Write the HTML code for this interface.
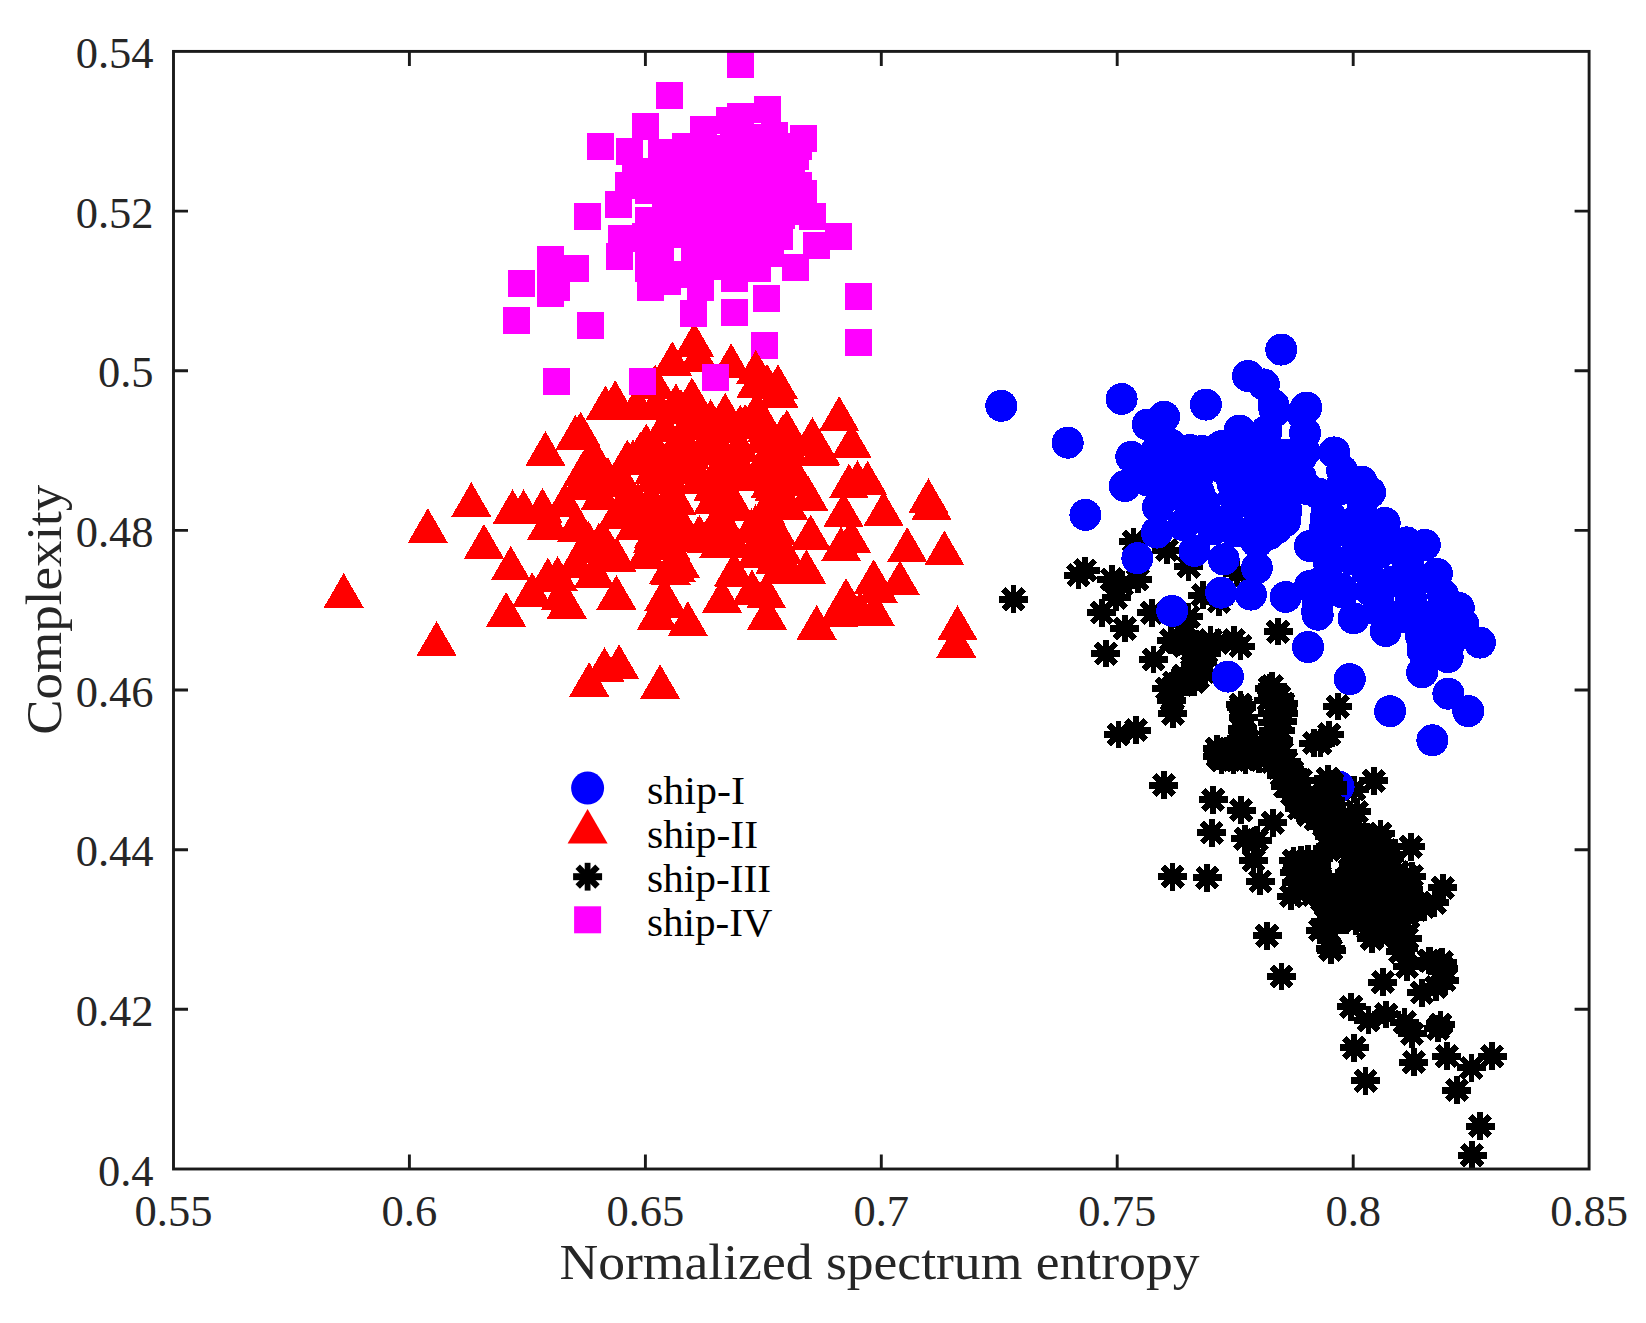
<!DOCTYPE html>
<html lang="en"><head><meta charset="utf-8"><title>Complexity vs normalized spectrum entropy</title>
<style>
html,body{margin:0;padding:0;background:#fff;}
body{width:1646px;height:1323px;overflow:hidden;}
svg{display:block;}
text{font-family:"Liberation Serif",serif;fill:#262626;}
.tk{font-size:44.5px;}
.lb{font-size:50.5px;}
.lg{font-size:41px;fill:#000;}
</style></head><body>
<svg width="1646" height="1323" viewBox="0 0 1646 1323">
<rect width="1646" height="1323" fill="#fff"/>
<defs>
<g id="ast" stroke="#000" fill="none"><path d="M0-13.9V13.9" stroke-width="5.8"/><path d="M-14.5 0H14.5" stroke-width="7"/><path d="M-9.9-9.9L9.9 9.9M-9.9 9.9L9.9-9.9" stroke-width="6.3"/></g>
<polygon id="tri" points="0,-23.1 20,11.55 -20,11.55" fill="#f00"/>
<rect id="sq" x="-13.5" y="-13.5" width="27" height="27" fill="#f0f"/>
<circle id="ci" r="16" fill="#00f"/>
</defs>

<g id="ship3" shape-rendering="crispEdges">
<use href="#ast" x="1356.5" y="835"/>
<use href="#ast" x="1332.5" y="813.5"/>
<use href="#ast" x="1330" y="846.5"/>
<use href="#ast" x="1307.5" y="808"/>
<use href="#ast" x="1356" y="852"/>
<use href="#ast" x="1308" y="859"/>
<use href="#ast" x="1368.5" y="860"/>
<use href="#ast" x="1332" y="829"/>
<use href="#ast" x="1385.5" y="865.5"/>
<use href="#ast" x="1298.5" y="870"/>
<use href="#ast" x="1312" y="876"/>
<use href="#ast" x="1355.5" y="874.5"/>
<use href="#ast" x="1329.5" y="883.5"/>
<use href="#ast" x="1388.5" y="882.5"/>
<use href="#ast" x="1368.5" y="887"/>
<use href="#ast" x="1385.5" y="850"/>
<use href="#ast" x="1344.5" y="884.5"/>
<use href="#ast" x="1340" y="899.5"/>
<use href="#ast" x="1306.5" y="890.5"/>
<use href="#ast" x="1347" y="822.5"/>
<use href="#ast" x="1368.5" y="902"/>
<use href="#ast" x="1318" y="818"/>
<use href="#ast" x="1342.5" y="839.5"/>
<use href="#ast" x="1369" y="842"/>
<use href="#ast" x="1373.5" y="873.5"/>
<use href="#ast" x="1355.5" y="894"/>
<use href="#ast" x="1390.5" y="897"/>
<use href="#ast" x="1320" y="895.5"/>
<use href="#ast" x="1259" y="759.5"/>
<use href="#ast" x="1402" y="886.5"/>
<use href="#ast" x="1398" y="872"/>
<use href="#ast" x="1301" y="780"/>
<use href="#ast" x="1196" y="660"/>
<use href="#ast" x="1255.5" y="743.5"/>
<use href="#ast" x="1184.5" y="646"/>
<use href="#ast" x="1296" y="882.5"/>
<use href="#ast" x="1356" y="921.5"/>
<use href="#ast" x="1383" y="923.5"/>
<use href="#ast" x="1293.5" y="860.5"/>
<use href="#ast" x="1379.5" y="893.5"/>
<use href="#ast" x="1282" y="752.5"/>
<use href="#ast" x="1353" y="863"/>
<use href="#ast" x="1239.5" y="740.5"/>
<use href="#ast" x="1344" y="850"/>
<use href="#ast" x="1292.5" y="771.5"/>
<use href="#ast" x="1402.5" y="928.5"/>
<use href="#ast" x="1316" y="863"/>
<use href="#ast" x="1320" y="808.5"/>
<use href="#ast" x="1279.5" y="696.5"/>
<use href="#ast" x="1206.5" y="652"/>
<use href="#ast" x="1299" y="808.5"/>
<use href="#ast" x="1278" y="740"/>
<use href="#ast" x="1272.5" y="762"/>
<use href="#ast" x="1335" y="922.5"/>
<use href="#ast" x="1281.5" y="775.5"/>
<use href="#ast" x="1377" y="854"/>
<use href="#ast" x="1331.5" y="896"/>
<use href="#ast" x="1396" y="907.5"/>
<use href="#ast" x="1318.5" y="883"/>
<use href="#ast" x="1272.5" y="713"/>
<use href="#ast" x="1245.5" y="760"/>
<use href="#ast" x="1368" y="928.5"/>
<use href="#ast" x="1324" y="826"/>
<use href="#ast" x="1347.5" y="904"/>
<use href="#ast" x="1343" y="816"/>
<use href="#ast" x="1358.5" y="881"/>
<use href="#ast" x="1192" y="670"/>
<use href="#ast" x="1221.5" y="760.5"/>
<use href="#ast" x="1282.5" y="721"/>
<use href="#ast" x="1292" y="794"/>
<use href="#ast" x="1370.5" y="911.5"/>
<use href="#ast" x="1380.5" y="879"/>
<use href="#ast" x="1230" y="748.5"/>
<use href="#ast" x="1181.5" y="685"/>
<use href="#ast" x="1354.5" y="826"/>
<use href="#ast" x="1408.5" y="889.5"/>
<use href="#ast" x="1329" y="836"/>
<use href="#ast" x="1383.5" y="842"/>
<use href="#ast" x="1363.5" y="870.5"/>
<use href="#ast" x="1325.5" y="921"/>
<use href="#ast" x="1389.5" y="854"/>
<use href="#ast" x="1381" y="932.5"/>
<use href="#ast" x="1308.5" y="815"/>
<use href="#ast" x="1356" y="843.5"/>
<use href="#ast" x="1320" y="876.5"/>
<use href="#ast" x="1308" y="802"/>
<use href="#ast" x="1392.5" y="920"/>
<use href="#ast" x="1343.5" y="829"/>
<use href="#ast" x="1367" y="836.5"/>
<use href="#ast" x="1348.5" y="876.5"/>
<use href="#ast" x="1413" y="901"/>
<use href="#ast" x="1260" y="750"/>
<use href="#ast" x="1302.5" y="789"/>
<use href="#ast" x="1286.5" y="761.5"/>
<use href="#ast" x="1246" y="739"/>
<use href="#ast" x="1192" y="642.5"/>
<use href="#ast" x="1316" y="858.5"/>
<use href="#ast" x="1337.5" y="883"/>
<use href="#ast" x="1364" y="854"/>
<use href="#ast" x="1285" y="786.5"/>
<use href="#ast" x="1280" y="730"/>
<use href="#ast" x="1294.5" y="872.5"/>
<use href="#ast" x="1335" y="908"/>
<use href="#ast" x="1322" y="900"/>
<use href="#ast" x="1174" y="682.5"/>
<use href="#ast" x="1381.5" y="903"/>
<use href="#ast" x="1233.5" y="760"/>
<use href="#ast" x="1306" y="873"/>
<use href="#ast" x="1396.5" y="936"/>
<use href="#ast" x="1396" y="894"/>
<use href="#ast" x="1202" y="662"/>
<use href="#ast" x="1313.5" y="895"/>
<use href="#ast" x="1392.5" y="867.5"/>
<use href="#ast" x="1360" y="897"/>
<use href="#ast" x="1192" y="651"/>
<use href="#ast" x="1344" y="891"/>
<use href="#ast" x="1269.5" y="688"/>
<use href="#ast" x="1298" y="892"/>
<use href="#ast" x="1346.5" y="920"/>
<use href="#ast" x="1272.5" y="722"/>
<use href="#ast" x="1330" y="848.5"/>
<use href="#ast" x="1380.5" y="864.5"/>
<use href="#ast" x="1332.5" y="820"/>
<use href="#ast" x="1177" y="642.5"/>
<use href="#ast" x="1283.5" y="703.5"/>
<use href="#ast" x="1301" y="859.5"/>
<use href="#ast" x="1415.5" y="910"/>
<use href="#ast" x="1283" y="713"/>
<use href="#ast" x="1405.5" y="875"/>
<use href="#ast" x="1315.5" y="819.5"/>
<use href="#ast" x="1198" y="677.5"/>
<use href="#ast" x="1217.5" y="756"/>
<use href="#ast" x="1174" y="692.5"/>
<use href="#ast" x="1307.5" y="882"/>
<use href="#ast" x="1326" y="810.5"/>
<use href="#ast" x="1241" y="707.5"/>
<use href="#ast" x="1392.5" y="876.5"/>
<use href="#ast" x="1278.5" y="768"/>
<use href="#ast" x="1349.5" y="854.5"/>
<use href="#ast" x="1298" y="802"/>
<use href="#ast" x="1085.1" y="570.4"/>
<use href="#ast" x="1078.4" y="575.1"/>
<use href="#ast" x="1111.8" y="579.3"/>
<use href="#ast" x="1137.7" y="579.3"/>
<use href="#ast" x="1121.8" y="585.1"/>
<use href="#ast" x="1101.8" y="612.7"/>
<use href="#ast" x="1116" y="597.6"/>
<use href="#ast" x="1124.8" y="628.5"/>
<use href="#ast" x="1105.9" y="653.6"/>
<use href="#ast" x="1151.9" y="612.7"/>
<use href="#ast" x="1153.6" y="659.5"/>
<use href="#ast" x="1166.9" y="550"/>
<use href="#ast" x="1188.6" y="566.7"/>
<use href="#ast" x="1202.8" y="595.1"/>
<use href="#ast" x="1218.7" y="601.8"/>
<use href="#ast" x="1237.1" y="573.4"/>
<use href="#ast" x="1133.5" y="541.7"/>
<use href="#ast" x="1278" y="631.6"/>
<use href="#ast" x="1188.6" y="616.9"/>
<use href="#ast" x="1171.1" y="640.2"/>
<use href="#ast" x="1184.5" y="633.6"/>
<use href="#ast" x="1198.7" y="646.9"/>
<use href="#ast" x="1210.4" y="640.2"/>
<use href="#ast" x="1217.9" y="642.7"/>
<use href="#ast" x="1233.8" y="640.2"/>
<use href="#ast" x="1240.4" y="646.1"/>
<use href="#ast" x="1183.6" y="675.3"/>
<use href="#ast" x="1173.6" y="687"/>
<use href="#ast" x="1193.7" y="682"/>
<use href="#ast" x="1203.7" y="672"/>
<use href="#ast" x="1166.9" y="688.7"/>
<use href="#ast" x="1171.9" y="700.4"/>
<use href="#ast" x="1172.8" y="713.8"/>
<use href="#ast" x="1118.5" y="734.6"/>
<use href="#ast" x="1136" y="730.1"/>
<use href="#ast" x="1272.2" y="686.2"/>
<use href="#ast" x="1240.4" y="704.6"/>
<use href="#ast" x="1243.8" y="717.1"/>
<use href="#ast" x="1242.1" y="728.8"/>
<use href="#ast" x="1268.8" y="700.4"/>
<use href="#ast" x="1282.2" y="707.1"/>
<use href="#ast" x="1277.2" y="720.4"/>
<use href="#ast" x="1273.9" y="730.5"/>
<use href="#ast" x="1268.8" y="740.5"/>
<use href="#ast" x="1217" y="748.8"/>
<use href="#ast" x="1227.1" y="755.5"/>
<use href="#ast" x="1243.8" y="750.5"/>
<use href="#ast" x="1313.9" y="743"/>
<use href="#ast" x="1163.9" y="785.1"/>
<use href="#ast" x="1213.2" y="799.8"/>
<use href="#ast" x="1241.1" y="810.2"/>
<use href="#ast" x="1211.8" y="832.7"/>
<use href="#ast" x="1172.6" y="876.7"/>
<use href="#ast" x="1207.3" y="877.8"/>
<use href="#ast" x="1267" y="935.8"/>
<use href="#ast" x="1272.8" y="822.7"/>
<use href="#ast" x="1245.3" y="838.6"/>
<use href="#ast" x="1257" y="840.2"/>
<use href="#ast" x="1253.6" y="860.3"/>
<use href="#ast" x="1260.3" y="881.2"/>
<use href="#ast" x="1291.2" y="896.2"/>
<use href="#ast" x="1373.9" y="780.9"/>
<use href="#ast" x="1218.5" y="752.5"/>
<use href="#ast" x="1233.6" y="756.7"/>
<use href="#ast" x="1246.9" y="753.4"/>
<use href="#ast" x="1320.4" y="743.3"/>
<use href="#ast" x="1272" y="753.4"/>
<use href="#ast" x="1283.7" y="766.7"/>
<use href="#ast" x="1288.7" y="785.1"/>
<use href="#ast" x="1300.4" y="795.1"/>
<use href="#ast" x="1380.6" y="833.6"/>
<use href="#ast" x="1410.7" y="846.9"/>
<use href="#ast" x="1328.8" y="930.5"/>
<use href="#ast" x="1330.5" y="948.8"/>
<use href="#ast" x="1480.1" y="1126.1"/>
<use href="#ast" x="1472" y="1155.3"/>
<use href="#ast" x="1442.8" y="887.9"/>
<use href="#ast" x="1434.5" y="902.9"/>
<use href="#ast" x="1411.9" y="876.2"/>
<use href="#ast" x="1408.6" y="917.1"/>
<use href="#ast" x="1406.9" y="900.4"/>
<use href="#ast" x="1356.8" y="811.8"/>
<use href="#ast" x="1371.8" y="938.8"/>
<use href="#ast" x="1403.6" y="948.8"/>
<use href="#ast" x="1428.6" y="960.5"/>
<use href="#ast" x="1442" y="962.2"/>
<use href="#ast" x="1281.4" y="976.5"/>
<use href="#ast" x="1331.1" y="950.1"/>
<use href="#ast" x="1326.9" y="930.1"/>
<use href="#ast" x="1372" y="938.4"/>
<use href="#ast" x="1382.8" y="982.2"/>
<use href="#ast" x="1407.1" y="966.8"/>
<use href="#ast" x="1400.4" y="951.8"/>
<use href="#ast" x="1430.5" y="961"/>
<use href="#ast" x="1443" y="968.5"/>
<use href="#ast" x="1444.7" y="980.2"/>
<use href="#ast" x="1436.3" y="986.9"/>
<use href="#ast" x="1421.8" y="992.7"/>
<use href="#ast" x="1351.1" y="1006.9"/>
<use href="#ast" x="1368.6" y="1020.3"/>
<use href="#ast" x="1386.2" y="1014.4"/>
<use href="#ast" x="1404.6" y="1022"/>
<use href="#ast" x="1412.1" y="1033.7"/>
<use href="#ast" x="1440.5" y="1024.5"/>
<use href="#ast" x="1438" y="1028.6"/>
<use href="#ast" x="1354.1" y="1047.9"/>
<use href="#ast" x="1413.8" y="1062.1"/>
<use href="#ast" x="1365.6" y="1080.9"/>
<use href="#ast" x="1446.8" y="1056.2"/>
<use href="#ast" x="1471.4" y="1067.9"/>
<use href="#ast" x="1492.3" y="1056.2"/>
<use href="#ast" x="1456.9" y="1090.1"/>
<use href="#ast" x="1328.5" y="910"/>
<use href="#ast" x="1343.6" y="916.7"/>
<use href="#ast" x="1357" y="910"/>
<use href="#ast" x="1370.3" y="920"/>
<use href="#ast" x="1383.7" y="910"/>
<use href="#ast" x="1398.7" y="916.7"/>
<use href="#ast" x="1410.4" y="910"/>
<use href="#ast" x="1423.8" y="906.7"/>
<use href="#ast" x="1320.2" y="930.1"/>
<use href="#ast" x="1390.4" y="933.4"/>
<use href="#ast" x="1407.1" y="938.4"/>
<use href="#ast" x="1354.2" y="789.4"/>
<use href="#ast" x="1013.4" y="599.2"/>
<use href="#ast" x="1329.3" y="734.5"/>
<use href="#ast" x="1337.8" y="706.6"/>
</g>
<g id="ship1-under" shape-rendering="crispEdges">
<use href="#ci" x="1338.6" y="786.6"/>
</g>
<g id="ship3-over" shape-rendering="crispEdges">
<use href="#ast" x="1328.1" y="778.7"/>
<use href="#ast" x="1332.3" y="784.1"/>
<use href="#ast" x="1332.3" y="791.4"/>
<use href="#ast" x="1325" y="793"/>
<use href="#ast" x="1330" y="800"/>
</g>
<g id="ship1" shape-rendering="crispEdges">
<use href="#ci" x="1258.5" y="510"/>
<use href="#ci" x="1202" y="451"/>
<use href="#ci" x="1196.5" y="491.5"/>
<use href="#ci" x="1227" y="521"/>
<use href="#ci" x="1367" y="570"/>
<use href="#ci" x="1326.5" y="513.5"/>
<use href="#ci" x="1401.5" y="578.5"/>
<use href="#ci" x="1353" y="535"/>
<use href="#ci" x="1341.5" y="589"/>
<use href="#ci" x="1378.5" y="599.5"/>
<use href="#ci" x="1187" y="521"/>
<use href="#ci" x="1285" y="521"/>
<use href="#ci" x="1254" y="538.5"/>
<use href="#ci" x="1408" y="609.5"/>
<use href="#ci" x="1223" y="468"/>
<use href="#ci" x="1309" y="489.5"/>
<use href="#ci" x="1170.5" y="444.5"/>
<use href="#ci" x="1152" y="478.5"/>
<use href="#ci" x="1234" y="496.5"/>
<use href="#ci" x="1380" y="552.5"/>
<use href="#ci" x="1339" y="489.5"/>
<use href="#ci" x="1359" y="517.5"/>
<use href="#ci" x="1300.5" y="458"/>
<use href="#ci" x="1213" y="529.5"/>
<use href="#ci" x="1231" y="445.5"/>
<use href="#ci" x="1176.5" y="494.5"/>
<use href="#ci" x="1324.5" y="530"/>
<use href="#ci" x="1421" y="636"/>
<use href="#ci" x="1418" y="579"/>
<use href="#ci" x="1156.5" y="451"/>
<use href="#ci" x="1266" y="497"/>
<use href="#ci" x="1204" y="503"/>
<use href="#ci" x="1352" y="559.5"/>
<use href="#ci" x="1269" y="534"/>
<use href="#ci" x="1199" y="474"/>
<use href="#ci" x="1452" y="639.5"/>
<use href="#ci" x="1408" y="562.5"/>
<use href="#ci" x="1286.5" y="510.5"/>
<use href="#ci" x="1235.5" y="531.5"/>
<use href="#ci" x="1370.5" y="590.5"/>
<use href="#ci" x="1322" y="581.5"/>
<use href="#ci" x="1422.5" y="650"/>
<use href="#ci" x="1183" y="525"/>
<use href="#ci" x="1393" y="581.5"/>
<use href="#ci" x="1190" y="450"/>
<use href="#ci" x="1221.5" y="446"/>
<use href="#ci" x="1411" y="598"/>
<use href="#ci" x="1378.5" y="610.5"/>
<use href="#ci" x="1342.5" y="592.5"/>
<use href="#ci" x="1304.5" y="452"/>
<use href="#ci" x="1375" y="537"/>
<use href="#ci" x="1362.5" y="501.5"/>
<use href="#ci" x="1406" y="617"/>
<use href="#ci" x="1300.5" y="477"/>
<use href="#ci" x="1148" y="480.5"/>
<use href="#ci" x="1257" y="542.5"/>
<use href="#ci" x="1340.5" y="530"/>
<use href="#ci" x="1232.5" y="483.5"/>
<use href="#ci" x="1276.5" y="528.5"/>
<use href="#ci" x="1234" y="451"/>
<use href="#ci" x="1318.5" y="493.5"/>
<use href="#ci" x="1242" y="501.5"/>
<use href="#ci" x="1329" y="563.5"/>
<use href="#ci" x="1199" y="492.5"/>
<use href="#ci" x="1317.5" y="603"/>
<use href="#ci" x="1330" y="516"/>
<use href="#ci" x="1325.5" y="519"/>
<use href="#ci" x="1001.3" y="405.8"/>
<use href="#ci" x="1121.6" y="399"/>
<use href="#ci" x="1067.7" y="442.7"/>
<use href="#ci" x="1205.9" y="404.6"/>
<use href="#ci" x="1281.3" y="349.6"/>
<use href="#ci" x="1248" y="375.9"/>
<use href="#ci" x="1263.8" y="384.4"/>
<use href="#ci" x="1164.1" y="416.7"/>
<use href="#ci" x="1147.8" y="424.5"/>
<use href="#ci" x="1131.3" y="456.8"/>
<use href="#ci" x="1124.8" y="486"/>
<use href="#ci" x="1085.4" y="514.9"/>
<use href="#ci" x="1137.4" y="558.2"/>
<use href="#ci" x="1172.2" y="610.9"/>
<use href="#ci" x="1221.2" y="592.7"/>
<use href="#ci" x="1250.9" y="594.6"/>
<use href="#ci" x="1257" y="567.9"/>
<use href="#ci" x="1223.7" y="559.4"/>
<use href="#ci" x="1194.5" y="550.9"/>
<use href="#ci" x="1156.8" y="532.6"/>
<use href="#ci" x="1158.1" y="507.1"/>
<use href="#ci" x="1285.6" y="597"/>
<use href="#ci" x="1309.9" y="586.1"/>
<use href="#ci" x="1309.9" y="546"/>
<use href="#ci" x="1317.2" y="611.6"/>
<use href="#ci" x="1306.3" y="407.5"/>
<use href="#ci" x="1239.5" y="430.6"/>
<use href="#ci" x="1273.5" y="405.1"/>
<use href="#ci" x="1334.2" y="452.4"/>
<use href="#ci" x="1305.1" y="433"/>
<use href="#ci" x="1342.2" y="470.7"/>
<use href="#ci" x="1361.6" y="481.6"/>
<use href="#ci" x="1370.1" y="492.5"/>
<use href="#ci" x="1384.7" y="522.9"/>
<use href="#ci" x="1424.8" y="544.8"/>
<use href="#ci" x="1406.6" y="542.4"/>
<use href="#ci" x="1436.9" y="573.9"/>
<use href="#ci" x="1458.8" y="608"/>
<use href="#ci" x="1443" y="594.6"/>
<use href="#ci" x="1331.2" y="559.4"/>
<use href="#ci" x="1227.8" y="676.6"/>
<use href="#ci" x="1308" y="647"/>
<use href="#ci" x="1349.8" y="679.1"/>
<use href="#ci" x="1390.1" y="711.2"/>
<use href="#ci" x="1432.4" y="740.3"/>
<use href="#ci" x="1468.3" y="711.2"/>
<use href="#ci" x="1448.4" y="693.7"/>
<use href="#ci" x="1422.2" y="672.3"/>
<use href="#ci" x="1447.7" y="657.2"/>
<use href="#ci" x="1480" y="642.6"/>
<use href="#ci" x="1385.7" y="631"/>
<use href="#ci" x="1353.6" y="618.3"/>
<use href="#ci" x="1317.7" y="614.7"/>
<use href="#ci" x="1429.5" y="645.1"/>
<use href="#ci" x="1463.5" y="624.4"/>
<use href="#ci" x="1275.1" y="411.2"/>
<use href="#ci" x="1302" y="413.7"/>
<use href="#ci" x="1266.5" y="431"/>
<use href="#ci" x="1284.7" y="454.7"/>
<use href="#ci" x="1264.6" y="471.2"/>
<use href="#ci" x="1263" y="449"/>
<use href="#ci" x="1286.5" y="484.8"/>
<use href="#ci" x="1248" y="473"/>
<use href="#ci" x="1174" y="468"/>
<use href="#ci" x="1435.4" y="615.1"/>
</g>
<g id="ship2" shape-rendering="crispEdges">
<use href="#tri" x="687.5" y="472.6"/>
<use href="#tri" x="728.5" y="507.6"/>
<use href="#tri" x="664.5" y="510.1"/>
<use href="#tri" x="724" y="463.1"/>
<use href="#tri" x="764" y="464.6"/>
<use href="#tri" x="760.5" y="541.1"/>
<use href="#tri" x="628.5" y="501.6"/>
<use href="#tri" x="707" y="541.1"/>
<use href="#tri" x="771" y="504.6"/>
<use href="#tri" x="681" y="439.1"/>
<use href="#tri" x="653" y="541.1"/>
<use href="#tri" x="655.5" y="480.1"/>
<use href="#tri" x="791.5" y="472.6"/>
<use href="#tri" x="781" y="560.6"/>
<use href="#tri" x="616.5" y="560.1"/>
<use href="#tri" x="683" y="529.6"/>
<use href="#tri" x="600.5" y="498.6"/>
<use href="#tri" x="733.5" y="546.6"/>
<use href="#tri" x="746" y="479.1"/>
<use href="#tri" x="635" y="528.1"/>
<use href="#tri" x="713.5" y="489.1"/>
<use href="#tri" x="595" y="576.6"/>
<use href="#tri" x="707" y="450.1"/>
<use href="#tri" x="764.5" y="441.1"/>
<use href="#tri" x="776" y="533.1"/>
<use href="#tri" x="819" y="454.6"/>
<use href="#tri" x="646" y="557.1"/>
<use href="#tri" x="664" y="430.6"/>
<use href="#tri" x="757" y="413.6"/>
<use href="#tri" x="698.5" y="360.1"/>
<use href="#tri" x="739.5" y="450.1"/>
<use href="#tri" x="617" y="517.6"/>
<use href="#tri" x="788" y="508.1"/>
<use href="#tri" x="676.5" y="503.6"/>
<use href="#tri" x="672" y="462.6"/>
<use href="#tri" x="756.5" y="556.6"/>
<use href="#tri" x="724.5" y="527.1"/>
<use href="#tri" x="623" y="485.1"/>
<use href="#tri" x="755.5" y="527.6"/>
<use href="#tri" x="789" y="453.1"/>
<use href="#tri" x="770.5" y="486.6"/>
<use href="#tri" x="580" y="488.6"/>
<use href="#tri" x="650" y="505.1"/>
<use href="#tri" x="779.5" y="572.6"/>
<use href="#tri" x="699.5" y="482.1"/>
<use href="#tri" x="713.5" y="502.1"/>
<use href="#tri" x="668.5" y="537.6"/>
<use href="#tri" x="697.5" y="428.1"/>
<use href="#tri" x="656.5" y="407.6"/>
<use href="#tri" x="726.5" y="493.6"/>
<use href="#tri" x="593" y="458.1"/>
<use href="#tri" x="756.5" y="386.1"/>
<use href="#tri" x="654" y="472.6"/>
<use href="#tri" x="699.5" y="538.1"/>
<use href="#tri" x="799" y="484.1"/>
<use href="#tri" x="585" y="551.6"/>
<use href="#tri" x="721.5" y="453.6"/>
<use href="#tri" x="782.5" y="552.6"/>
<use href="#tri" x="719" y="546.6"/>
<use href="#tri" x="606" y="547.6"/>
<use href="#tri" x="656.5" y="453.6"/>
<use href="#tri" x="735.5" y="509.1"/>
<use href="#tri" x="658" y="515.1"/>
<use href="#tri" x="670.5" y="548.6"/>
<use href="#tri" x="681" y="412.6"/>
<use href="#tri" x="689.5" y="457.1"/>
<use href="#tri" x="577" y="527.1"/>
<use href="#tri" x="767" y="430.6"/>
<use href="#tri" x="765.5" y="513.1"/>
<use href="#tri" x="671" y="573.6"/>
<use href="#tri" x="775.5" y="562.1"/>
<use href="#tri" x="669" y="482.1"/>
<use href="#tri" x="714" y="431.6"/>
<use href="#tri" x="719" y="521.1"/>
<use href="#tri" x="773.5" y="473.6"/>
<use href="#tri" x="734" y="574.6"/>
<use href="#tri" x="751.5" y="531.6"/>
<use href="#tri" x="732.5" y="468.6"/>
<use href="#tri" x="676" y="570.6"/>
<use href="#tri" x="820" y="453.1"/>
<use href="#tri" x="608" y="480.6"/>
<use href="#tri" x="633" y="462.6"/>
<use href="#tri" x="654" y="536.1"/>
<use href="#tri" x="549" y="526.6"/>
<use href="#tri" x="810.5" y="538.1"/>
<use href="#tri" x="588.5" y="544.1"/>
<use href="#tri" x="693" y="402.1"/>
<use href="#tri" x="731" y="366.6"/>
<use href="#tri" x="638" y="506.1"/>
<use href="#tri" x="627" y="463.1"/>
<use href="#tri" x="789.5" y="444.6"/>
<use href="#tri" x="774.5" y="489.1"/>
<use href="#tri" x="594" y="576.1"/>
<use href="#tri" x="752" y="592.6"/>
<use href="#tri" x="783" y="437.1"/>
<use href="#tri" x="697.5" y="540.6"/>
<use href="#tri" x="640.5" y="454.6"/>
<use href="#tri" x="672.3" y="364.4"/>
<use href="#tri" x="731.1" y="366.4"/>
<use href="#tri" x="778" y="387.5"/>
<use href="#tri" x="778.5" y="396.2"/>
<use href="#tri" x="767" y="386.8"/>
<use href="#tri" x="655.2" y="387.5"/>
<use href="#tri" x="615.2" y="403.3"/>
<use href="#tri" x="605.4" y="408.6"/>
<use href="#tri" x="637" y="408.4"/>
<use href="#tri" x="675.9" y="406.5"/>
<use href="#tri" x="691.7" y="400.9"/>
<use href="#tri" x="725.2" y="415.9"/>
<use href="#tri" x="710.7" y="422.2"/>
<use href="#tri" x="740.3" y="427.6"/>
<use href="#tri" x="745.2" y="427.1"/>
<use href="#tri" x="667.4" y="606.2"/>
<use href="#tri" x="343.7" y="596.1"/>
<use href="#tri" x="427.8" y="531.2"/>
<use href="#tri" x="471.3" y="505.2"/>
<use href="#tri" x="436.6" y="644.2"/>
<use href="#tri" x="484" y="547"/>
<use href="#tri" x="506.1" y="615.1"/>
<use href="#tri" x="510.7" y="568.9"/>
<use href="#tri" x="512.6" y="512.3"/>
<use href="#tri" x="523.6" y="512.3"/>
<use href="#tri" x="542.5" y="511.1"/>
<use href="#tri" x="545.4" y="454.2"/>
<use href="#tri" x="575.3" y="438.2"/>
<use href="#tri" x="580.7" y="434.8"/>
<use href="#tri" x="583.1" y="474.1"/>
<use href="#tri" x="600.9" y="472.2"/>
<use href="#tri" x="627.6" y="463.2"/>
<use href="#tri" x="646.3" y="446.7"/>
<use href="#tri" x="547.9" y="580.6"/>
<use href="#tri" x="557.6" y="579.1"/>
<use href="#tri" x="575.8" y="566.5"/>
<use href="#tri" x="532.1" y="595.2"/>
<use href="#tri" x="566.8" y="607.1"/>
<use href="#tri" x="616.4" y="598.1"/>
<use href="#tri" x="589.2" y="685.1"/>
<use href="#tri" x="604.5" y="670.2"/>
<use href="#tri" x="619.1" y="667.3"/>
<use href="#tri" x="660.1" y="687.3"/>
<use href="#tri" x="687.8" y="624.3"/>
<use href="#tri" x="657" y="618"/>
<use href="#tri" x="664.3" y="599.3"/>
<use href="#tri" x="668.9" y="572.6"/>
<use href="#tri" x="598.9" y="545.8"/>
<use href="#tri" x="839.2" y="419.2"/>
<use href="#tri" x="851.6" y="446.2"/>
<use href="#tri" x="812.4" y="440.1"/>
<use href="#tri" x="786.9" y="432.8"/>
<use href="#tri" x="848.9" y="486.8"/>
<use href="#tri" x="857.4" y="483.4"/>
<use href="#tri" x="867.6" y="483.9"/>
<use href="#tri" x="928.4" y="501.4"/>
<use href="#tri" x="931.5" y="508.2"/>
<use href="#tri" x="883.6" y="514.2"/>
<use href="#tri" x="907.2" y="550.2"/>
<use href="#tri" x="944.4" y="553.6"/>
<use href="#tri" x="899.9" y="583.5"/>
<use href="#tri" x="873.7" y="582.3"/>
<use href="#tri" x="846" y="601.2"/>
<use href="#tri" x="816.6" y="628"/>
<use href="#tri" x="957.5" y="628.4"/>
<use href="#tri" x="956.3" y="646.2"/>
<use href="#tri" x="874.9" y="614.4"/>
<use href="#tri" x="838.4" y="615.1"/>
<use href="#tri" x="767" y="618.2"/>
<use href="#tri" x="766.3" y="596.9"/>
<use href="#tri" x="751.7" y="593.2"/>
<use href="#tri" x="722" y="601.2"/>
<use href="#tri" x="806.4" y="572.6"/>
<use href="#tri" x="811.2" y="538.5"/>
<use href="#tri" x="841.1" y="549.5"/>
<use href="#tri" x="851.3" y="541.7"/>
<use href="#tri" x="680" y="566.5"/>
<use href="#tri" x="734.7" y="575.7"/>
<use href="#tri" x="564.9" y="505.7"/>
<use href="#tri" x="547.1" y="528.1"/>
<use href="#tri" x="577" y="530"/>
<use href="#tri" x="843.5" y="515.1"/>
<use href="#tri" x="877.8" y="591.3"/>
<use href="#tri" x="808.5" y="499.4"/>
<use href="#tri" x="694.3" y="345.5"/>
<use href="#tri" x="860.3" y="614.2"/>
<use href="#tri" x="561.1" y="598.1"/>
</g>
<g id="ship4" shape-rendering="crispEdges">
<use href="#sq" x="740.3" y="64.3"/>
<use href="#sq" x="669.8" y="95.9"/>
<use href="#sq" x="645.5" y="126.3"/>
<use href="#sq" x="600.6" y="146.2"/>
<use href="#sq" x="767.5" y="109.3"/>
<use href="#sq" x="803.5" y="138.9"/>
<use href="#sq" x="629.7" y="151.3"/>
<use href="#sq" x="587.2" y="216.2"/>
<use href="#sq" x="618.3" y="204.5"/>
<use href="#sq" x="628.5" y="185.3"/>
<use href="#sq" x="550" y="259.4"/>
<use href="#sq" x="575.1" y="268.4"/>
<use href="#sq" x="521.6" y="283.5"/>
<use href="#sq" x="550.8" y="293.5"/>
<use href="#sq" x="556.3" y="287.4"/>
<use href="#sq" x="516.2" y="320.2"/>
<use href="#sq" x="590.4" y="325.3"/>
<use href="#sq" x="621.2" y="238.1"/>
<use href="#sq" x="619.5" y="256.8"/>
<use href="#sq" x="648.4" y="268.4"/>
<use href="#sq" x="650.4" y="287.4"/>
<use href="#sq" x="693.4" y="313.4"/>
<use href="#sq" x="700.4" y="287.4"/>
<use href="#sq" x="734.2" y="312.2"/>
<use href="#sq" x="734.2" y="278.2"/>
<use href="#sq" x="766.3" y="298.8"/>
<use href="#sq" x="757.3" y="268.4"/>
<use href="#sq" x="795.5" y="267.2"/>
<use href="#sq" x="816.9" y="245.3"/>
<use href="#sq" x="838.7" y="236.4"/>
<use href="#sq" x="812.5" y="216.2"/>
<use href="#sq" x="803.5" y="193.1"/>
<use href="#sq" x="798.6" y="185.3"/>
<use href="#sq" x="795.7" y="156.6"/>
<use href="#sq" x="798.6" y="146.9"/>
<use href="#sq" x="774.3" y="135.3"/>
<use href="#sq" x="740.3" y="116.1"/>
<use href="#sq" x="729.4" y="120.2"/>
<use href="#sq" x="703.4" y="129.2"/>
<use href="#sq" x="685.1" y="146.2"/>
<use href="#sq" x="858.9" y="296.4"/>
<use href="#sq" x="858.9" y="342.3"/>
<use href="#sq" x="764.6" y="345.5"/>
<use href="#sq" x="661.3" y="152.3"/>
<use href="#sq" x="635.8" y="177.8"/>
<use href="#sq" x="648.4" y="220.6"/>
<use href="#sq" x="645" y="236.4"/>
<use href="#sq" x="708.7" y="149.4"/>
<use href="#sq" x="733" y="142.1"/>
<use href="#sq" x="757.3" y="137.2"/>
<use href="#sq" x="776.8" y="149.4"/>
<use href="#sq" x="674.7" y="166.4"/>
<use href="#sq" x="699" y="171.2"/>
<use href="#sq" x="723.3" y="166.4"/>
<use href="#sq" x="747.6" y="166.4"/>
<use href="#sq" x="771.9" y="171.2"/>
<use href="#sq" x="791.3" y="176.1"/>
<use href="#sq" x="660.1" y="185.8"/>
<use href="#sq" x="684.4" y="190.7"/>
<use href="#sq" x="708.7" y="193.1"/>
<use href="#sq" x="733" y="190.7"/>
<use href="#sq" x="757.3" y="193.1"/>
<use href="#sq" x="781.6" y="195.5"/>
<use href="#sq" x="796.2" y="200.4"/>
<use href="#sq" x="648" y="190.7"/>
<use href="#sq" x="665" y="210.1"/>
<use href="#sq" x="689.3" y="212.5"/>
<use href="#sq" x="713.6" y="215"/>
<use href="#sq" x="737.9" y="212.5"/>
<use href="#sq" x="762.2" y="215"/>
<use href="#sq" x="781.6" y="215"/>
<use href="#sq" x="672.3" y="234.4"/>
<use href="#sq" x="696.6" y="234.4"/>
<use href="#sq" x="720.9" y="234.4"/>
<use href="#sq" x="745.2" y="234.4"/>
<use href="#sq" x="769.5" y="234.4"/>
<use href="#sq" x="779.2" y="236.8"/>
<use href="#sq" x="770.7" y="253.9"/>
<use href="#sq" x="660.1" y="253.9"/>
<use href="#sq" x="708.7" y="258.7"/>
<use href="#sq" x="733" y="258.7"/>
<use href="#sq" x="757.3" y="258.7"/>
<use href="#sq" x="694.1" y="253.9"/>
<use href="#sq" x="660.1" y="268.4"/>
<use href="#sq" x="667.4" y="281.3"/>
<use href="#sq" x="684.4" y="274.5"/>
<use href="#sq" x="694.1" y="273.3"/>
<use href="#sq" x="718.4" y="266"/>
<use href="#sq" x="742.7" y="266"/>
<use href="#sq" x="556.8" y="381.4"/>
<use href="#sq" x="642.6" y="381.4"/>
<use href="#sq" x="715.5" y="377.3"/>
<use href="#sq" x="550.3" y="273.3"/>
<use href="#sq" x="730.6" y="148.1"/>
<use href="#sq" x="754.9" y="154.2"/>
<use href="#sq" x="655.2" y="171.2"/>
<use href="#sq" x="661.3" y="234.4"/>
<use href="#sq" x="648" y="249"/>
<use href="#sq" x="785.3" y="211.3"/>
</g>
<g id="ship2-over" shape-rendering="crispEdges">
<use href="#tri" x="755.8" y="372.9"/>
</g>
<g stroke="#1a1a1a" stroke-width="2.9" fill="none">
<rect x="173.5" y="51.4" width="1415.6" height="1117.6"/>
<path d="M409.4 1169.0V1154.5M409.4 51.4V65.9"/>
<path d="M645.4 1169.0V1154.5M645.4 51.4V65.9"/>
<path d="M881.3 1169.0V1154.5M881.3 51.4V65.9"/>
<path d="M1117.2 1169.0V1154.5M1117.2 51.4V65.9"/>
<path d="M1353.2 1169.0V1154.5M1353.2 51.4V65.9"/>
<path d="M173.5 1009.3H188.0M1589.1 1009.3H1574.6"/>
<path d="M173.5 849.7H188.0M1589.1 849.7H1574.6"/>
<path d="M173.5 690H188.0M1589.1 690H1574.6"/>
<path d="M173.5 530.4H188.0M1589.1 530.4H1574.6"/>
<path d="M173.5 370.7H188.0M1589.1 370.7H1574.6"/>
<path d="M173.5 211.1H188.0M1589.1 211.1H1574.6"/>
</g>
<text class="tk" x="173.5" y="1225.6" text-anchor="middle">0.55</text>
<text class="tk" x="409.4" y="1225.6" text-anchor="middle">0.6</text>
<text class="tk" x="645.4" y="1225.6" text-anchor="middle">0.65</text>
<text class="tk" x="881.3" y="1225.6" text-anchor="middle">0.7</text>
<text class="tk" x="1117.2" y="1225.6" text-anchor="middle">0.75</text>
<text class="tk" x="1353.2" y="1225.6" text-anchor="middle">0.8</text>
<text class="tk" x="1589.1" y="1225.6" text-anchor="middle">0.85</text>
<text class="tk" x="153.5" y="1185.6" text-anchor="end">0.4</text>
<text class="tk" x="153.5" y="1025.9" text-anchor="end">0.42</text>
<text class="tk" x="153.5" y="866.3" text-anchor="end">0.44</text>
<text class="tk" x="153.5" y="706.6" text-anchor="end">0.46</text>
<text class="tk" x="153.5" y="547" text-anchor="end">0.48</text>
<text class="tk" x="153.5" y="387.3" text-anchor="end">0.5</text>
<text class="tk" x="153.5" y="227.7" text-anchor="end">0.52</text>
<text class="tk" x="153.5" y="68" text-anchor="end">0.54</text>
<text class="lb" x="879.5" y="1279" text-anchor="middle" textLength="640" lengthAdjust="spacingAndGlyphs">Normalized spectrum entropy</text>
<text class="lb" transform="translate(61,609.7) rotate(-90)" text-anchor="middle" textLength="250" lengthAdjust="spacingAndGlyphs">Complexity</text>
<circle cx="587.6" cy="788.1" r="16.5" fill="#00f"/>
<use href="#tri" x="587.6" y="832"/>
<use href="#ast" x="587.6" y="876.7"/>
<use href="#sq" x="587.6" y="919.8"/>
<text class="lg" x="647" y="804" textLength="98" lengthAdjust="spacingAndGlyphs">ship-I</text>
<text class="lg" x="647" y="848" textLength="111" lengthAdjust="spacingAndGlyphs">ship-II</text>
<text class="lg" x="647" y="892" textLength="124" lengthAdjust="spacingAndGlyphs">ship-III</text>
<text class="lg" x="647" y="936" textLength="125.5" lengthAdjust="spacingAndGlyphs">ship-IV</text>
</svg></body></html>
